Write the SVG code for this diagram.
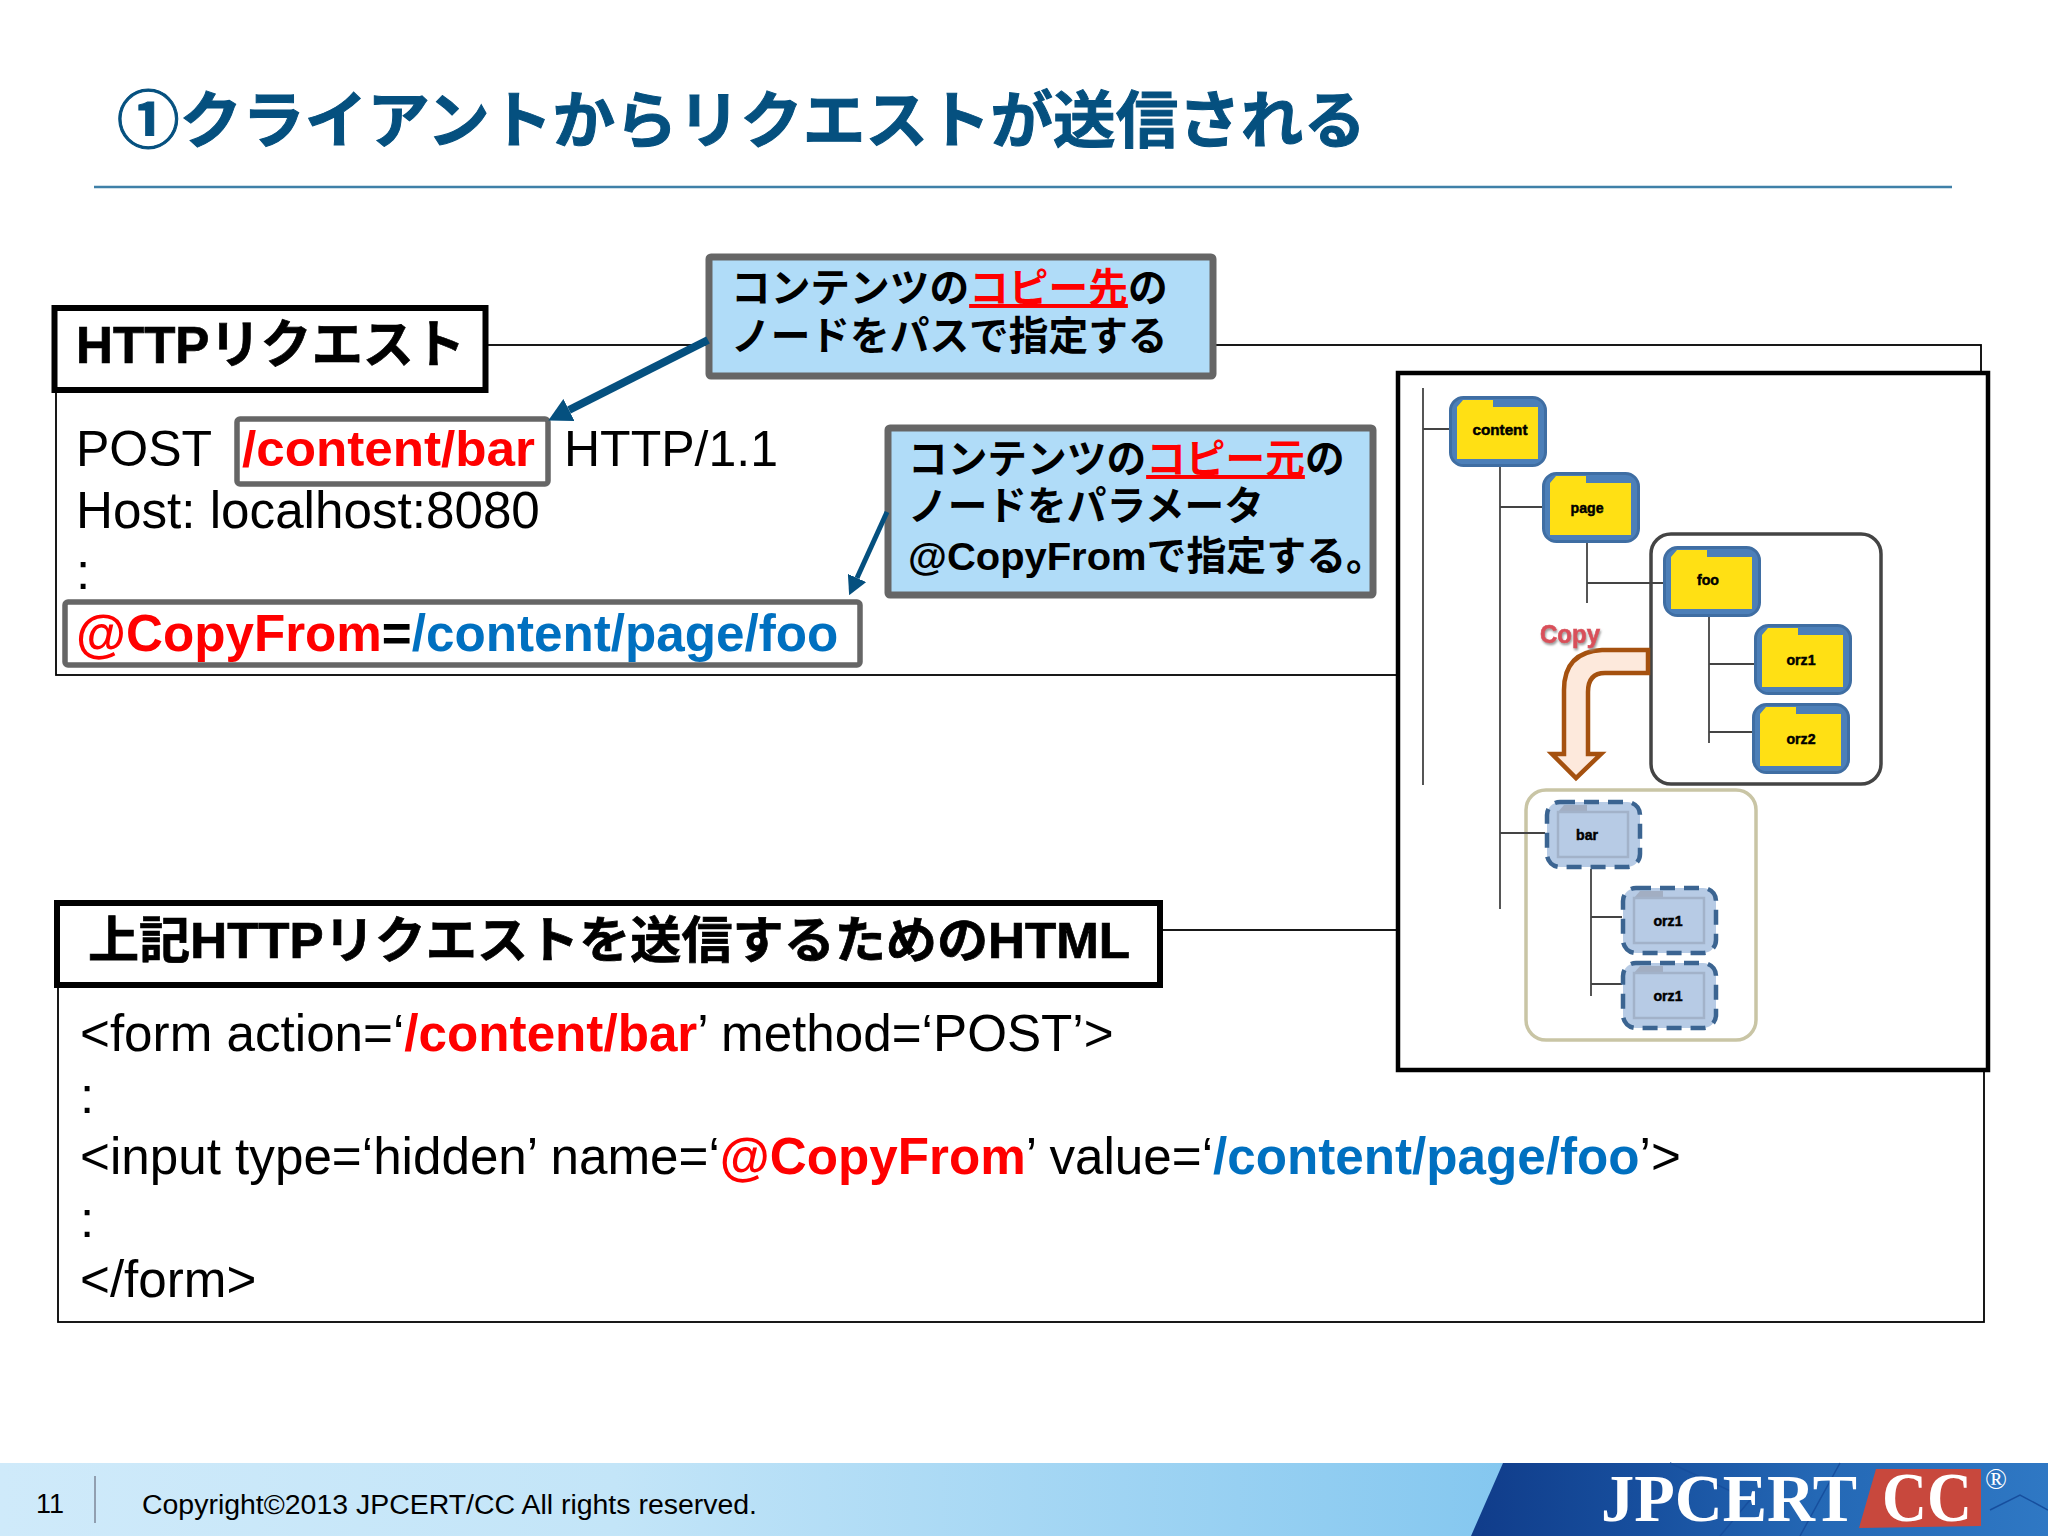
<svg xmlns="http://www.w3.org/2000/svg" width="2048" height="1536" viewBox="0 0 2048 1536">
<style>
text{font-family:"Liberation Sans","Noto Sans CJK JP",sans-serif;fill:#000}
.b{font-weight:700}
.m{font-size:51.2px}
.m0{font-size:50px}
.c{font-size:39.7px;font-weight:700}
.r{fill:#f00}.bl{fill:#0070c0}
.u{text-decoration:underline}
.frame{fill:none;stroke:#000;stroke-width:1.8}
.tb{fill:#fff;stroke:#000;stroke-width:6}
.hv{stroke:#000;stroke-width:.7}
.hl{fill:#fff;stroke:#666;stroke-width:5.500}
.call{fill:#b0dcf8;stroke:#666;stroke-width:7}
.tl{fill:none;stroke:#444;stroke-width:1.8}
.ar{fill:none;stroke:#05507f}
.f{font-size:15px;font-weight:700;text-anchor:middle;stroke:#000;stroke-width:.5}
.serif{font-family:"Liberation Serif",serif;fill:#fff}
</style>
<defs>
<linearGradient id="foot" x1="0" x2="1" y1="0" y2="0"><stop offset="0" stop-color="#cfeafa"/><stop offset=".3" stop-color="#c3e5f8"/><stop offset=".75" stop-color="#82c6ef"/><stop offset="1" stop-color="#7cc2ee"/></linearGradient>
<linearGradient id="logo" x1="0" x2="1" y1="0" y2="0"><stop offset="0" stop-color="#103c8a"/><stop offset=".3" stop-color="#174f9e"/><stop offset=".6" stop-color="#2468b5"/><stop offset="1" stop-color="#2f78c4"/></linearGradient>
<filter id="sh" x="-20%" y="-20%" width="140%" height="150%"><feDropShadow dx="1" dy="2" stdDeviation="1.200" flood-color="#999"/></filter>
<marker id="ah" viewBox="0 0 23 25" refX="0" refY="12.500" markerWidth="2.900" markerHeight="3.100" markerUnits="strokeWidth" orient="auto" preserveAspectRatio="none"><path d="M0 0L23 12.500L0 25z" fill="#05507f"/></marker>
<marker id="ah2" viewBox="0 0 19 20" refX="0" refY="10" markerWidth="3.800" markerHeight="4" markerUnits="strokeWidth" orient="auto" preserveAspectRatio="none"><path d="M0 0L19 10L0 20z" fill="#05507f"/></marker>
<g id="fy">
<rect x="1.500" y="1.500" width="95" height="68" rx="13" fill="#4c7fb8" stroke="#3f6ea3" stroke-width="3"/>
<path d="M8 11L14 4H44V11H89V63H8z" fill="#ffe014"/>
</g>
<g id="fb">
<rect x="2" y="2" width="93" height="65" rx="13" fill="#b7cbe5" stroke="#3b6491" stroke-width="4.500" stroke-dasharray="15 9"/>
<path d="M13 12L19 5H42V12z" fill="#a2aec2"/>
<rect x="13" y="12" width="70" height="45" fill="#b7cbe5" stroke="#a2b2c9" stroke-width="2.500"/>
</g>
</defs>
<rect width="2048" height="1536" fill="#fff"/>

<g id="title">
<text x="117" y="143" class="b" font-size="62" textLength="1249" lengthAdjust="spacingAndGlyphs" style="fill:#05507f;stroke:#05507f;stroke-width:1">①クライアントからリクエストが送信される</text>
<line x1="94" y1="187" x2="1952" y2="187" stroke="#3f80a8" stroke-width="2.500"/>
</g>

<g id="request">
<rect class="frame" x="56" y="345" width="1925" height="330"/>
<rect class="tb" x="54.500" y="308" width="431" height="82"/>
<text x="76" y="363" class="b hv" font-size="52" textLength="389" lengthAdjust="spacingAndGlyphs">HTTPリクエスト</text>
<rect class="hl" x="237" y="419" width="311" height="65" rx="3"/>
<rect class="hl" x="65" y="602" width="795" height="63" rx="3"/>
<text class="m0" x="76" y="466">POST</text>
<text class="m0 b r" x="242" y="466" textLength="293" lengthAdjust="spacingAndGlyphs">/content/bar</text>
<text class="m0" x="564" y="466">HTTP/1.1</text>
<text class="m" x="76" y="528">Host: localhost:8080</text>
<text class="m" x="76" y="589">:</text>
<text class="m b" x="76" y="651"><tspan class="r">@CopyFrom</tspan>=<tspan class="bl">/content/page/foo</tspan></text>
</g>

<g id="html">
<rect class="frame" x="58" y="930" width="1926" height="392"/>
<rect class="tb" x="57" y="903" width="1103" height="82"/>
<text x="88" y="958" class="b hv" font-size="50" textLength="1042" lengthAdjust="spacingAndGlyphs">上記HTTPリクエストを送信するためのHTML</text>
<text class="m" x="80" y="1051">&lt;form action=‘<tspan class="b r">/content/bar</tspan>’ method=‘POST’&gt;</text>
<text class="m" x="80" y="1113">:</text>
<text class="m" x="80" y="1174">&lt;input type=‘hidden’ name=‘<tspan class="b r">@CopyFrom</tspan>’ value=‘<tspan class="b bl">/content/page/foo</tspan>’&gt;</text>
<text class="m" x="80" y="1237">:</text>
<text class="m" x="80" y="1297">&lt;/form&gt;</text>
</g>

<g id="callout-dest">
<rect class="call" x="709" y="257" width="504" height="119" rx="2"/>
<text class="c" x="731" y="302">コンテンツの<tspan class="r u">コピー先</tspan>の</text>
<text class="c" x="731" y="350">ノードをパスで指定する</text>
</g>
<g id="callout-src">
<rect class="call" x="888" y="428" width="485" height="167" rx="2"/>
<text class="c" x="908" y="473">コンテンツの<tspan class="r u">コピー元</tspan>の</text>
<text class="c" x="908" y="520">ノードをパラメータ</text>
<text class="c" x="908" y="570" textLength="478" lengthAdjust="spacingAndGlyphs">@CopyFromで指定する。</text>
</g>

<g id="tree-panel">
<rect x="1398" y="373" width="590" height="697" fill="#fff" stroke="#000" stroke-width="4.500"/>
<rect x="1651" y="534" width="230" height="250" rx="20" fill="none" stroke="#444" stroke-width="3.500"/>
<rect x="1526" y="790" width="230" height="250" rx="20" fill="none" stroke="#c9c5a5" stroke-width="3.500"/>
</g>

<g id="connectors">
<path class="ar" stroke-width="8" marker-end="url(#ah)" d="M708 340L569 410"/>
<path class="ar" stroke-width="5" marker-end="url(#ah2)" d="M887 512L857 578"/>
<path class="tl" d="M1423 388V785M1423 429H1449M1500 466V909M1500 507H1542M1500 833H1545M1587 543V603M1587 583H1663M1709 617V743M1709 664H1754M1709 732H1752M1591 869V996M1591 917H1622M1591 984H1622"/>
</g>

<g id="copy-arrow">
<path d="M1648 650H1602Q1564 652 1564 690V754H1552L1576 778L1601 754H1588V692Q1588 673 1605 673H1648z" fill="#fde9dc" stroke="#a5510f" stroke-width="4.500"/>
<text x="1540" y="643" font-size="25" class="b" textLength="60" lengthAdjust="spacingAndGlyphs" filter="url(#sh)" style="fill:#d9505a;stroke:#d9505a;stroke-width:.6">Copy</text>
</g>

<g id="node-content"><use href="#fy" x="1449" y="396"/><text class="f" x="1500" y="435" textLength="55" lengthAdjust="spacingAndGlyphs">content</text></g>
<g id="node-page"><use href="#fy" x="1542" y="472"/><text class="f" x="1587" y="513" textLength="33" lengthAdjust="spacingAndGlyphs">page</text></g>
<g id="node-foo"><use href="#fy" x="1663" y="546"/><text class="f" x="1708" y="585" textLength="22" lengthAdjust="spacingAndGlyphs">foo</text></g>
<g id="node-orz1"><use href="#fy" x="1754" y="624"/><text class="f" x="1801" y="665" textLength="29" lengthAdjust="spacingAndGlyphs">orz1</text></g>
<g id="node-orz2"><use href="#fy" x="1752" y="703"/><text class="f" x="1801" y="744" textLength="29" lengthAdjust="spacingAndGlyphs">orz2</text></g>
<g id="node-bar"><use href="#fb" x="1545" y="800"/><text class="f" x="1587" y="840" textLength="22" lengthAdjust="spacingAndGlyphs">bar</text></g>
<g id="node-orz1-b"><use href="#fb" x="1621" y="886"/><text class="f" x="1668" y="926" textLength="29" lengthAdjust="spacingAndGlyphs">orz1</text></g>
<g id="node-orz1-c"><use href="#fb" x="1621" y="961"/><text class="f" x="1668" y="1001" textLength="29" lengthAdjust="spacingAndGlyphs">orz1</text></g>

<g id="footer">
<rect y="1463" width="2048" height="73" fill="url(#foot)"/>
<text x="36" y="1513" font-size="27">11</text>
<line x1="95" y1="1476" x2="95" y2="1523" stroke="#556" stroke-width="1"/>
<text x="142" y="1514" font-size="27" textLength="615" lengthAdjust="spacingAndGlyphs">Copyright©2013 JPCERT/CC All rights reserved.</text>
<path d="M1503 1463H2048V1536H1471z" fill="url(#logo)"/>
<path d="M1670 1463L1750 1500L1720 1536M1990 1510L2020 1495L2048 1510M1840 1463L1800 1536" fill="none" stroke="#174f9e" stroke-width="1.500"/>
<path d="M1876 1469H1981V1526L1859 1528z" fill="#c8483d"/>
<text x="1601" y="1521" font-size="68" textLength="256" lengthAdjust="spacingAndGlyphs" class="serif b">JPCERT</text>
<text x="1882" y="1521" font-size="70" textLength="90" lengthAdjust="spacingAndGlyphs" class="serif b">CC</text>
<text x="1985" y="1489" font-size="29" class="serif">®</text>
</g>
</svg>
